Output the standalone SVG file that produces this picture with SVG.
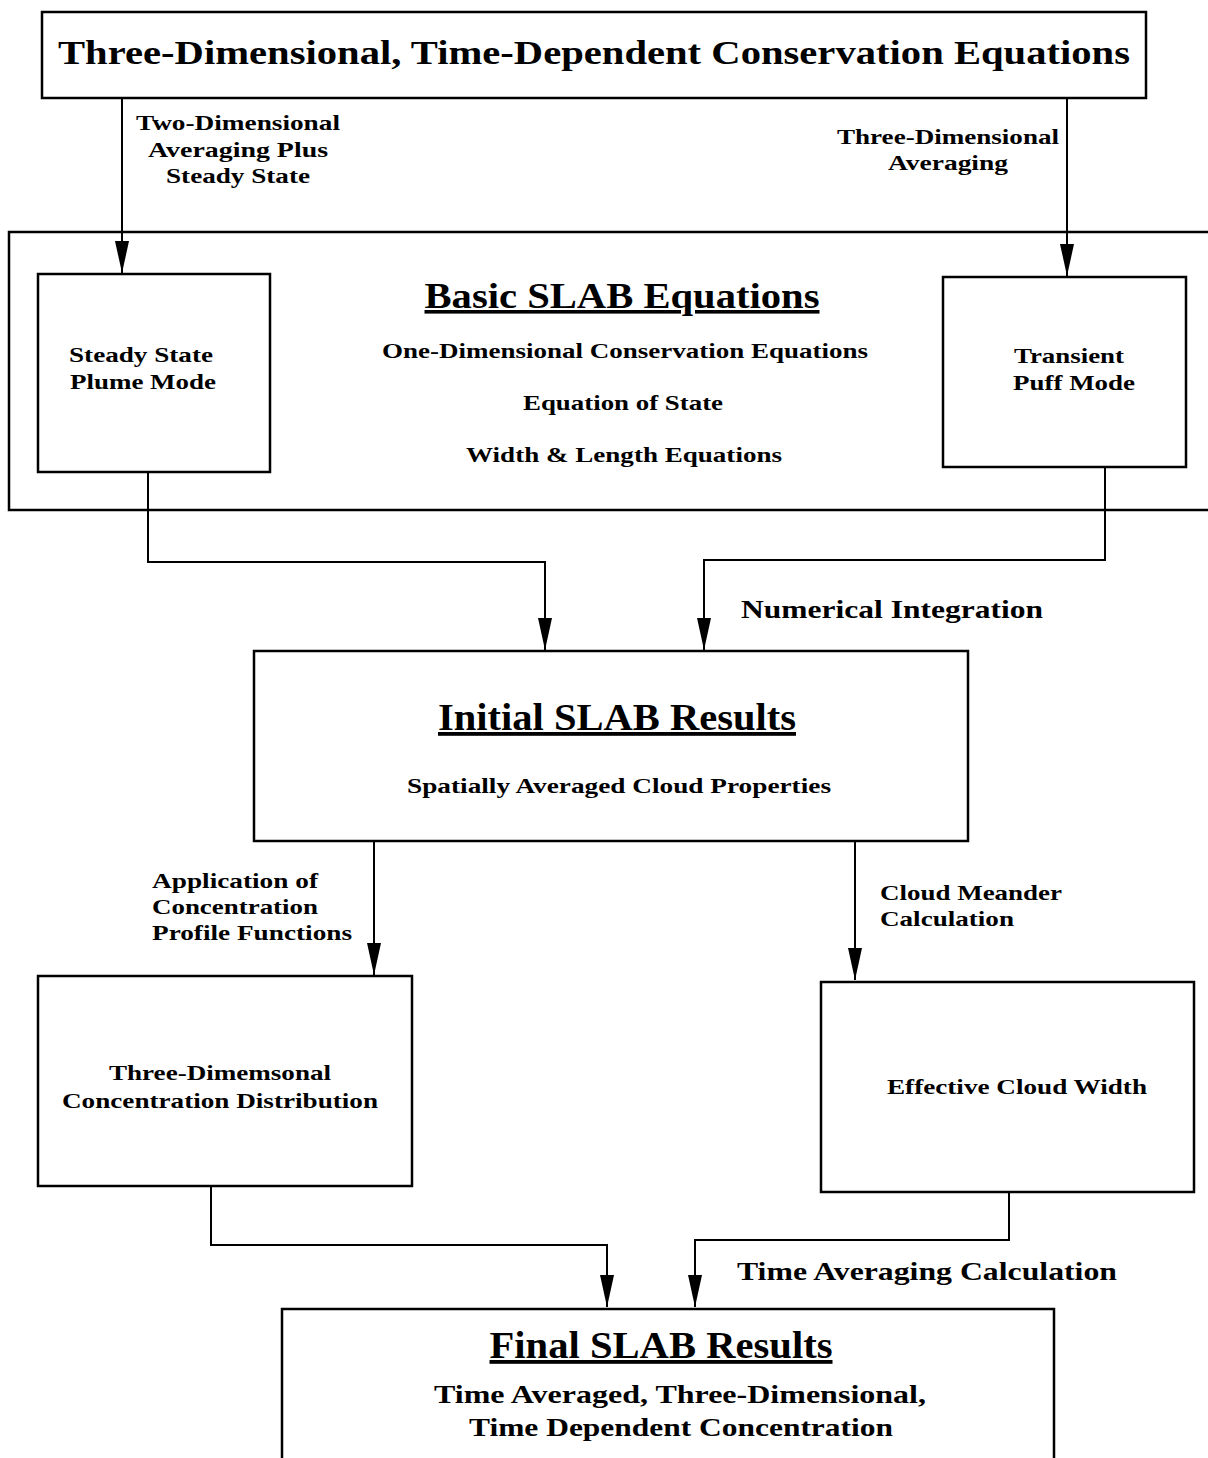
<svg xmlns="http://www.w3.org/2000/svg" width="1208" height="1458" viewBox="0 0 1208 1458">
<style>
.box{fill:none;stroke:#000;stroke-width:2.5}
.ln{fill:none;stroke:#000;stroke-width:2}
text{font-family:"Liberation Serif","Times New Roman",serif;font-weight:bold;fill:#000}
.s{font-size:22px}
.m{font-size:26px}
.t{font-size:38px;text-decoration:underline}
.c{text-anchor:middle}
</style>
<defs>
<marker id="ah" markerUnits="userSpaceOnUse" markerWidth="32" markerHeight="14" refX="32" refY="7" orient="auto">
<path d="M0,0 L32,7 L0,14 z" fill="#000"/>
</marker>
</defs>
<rect width="1208" height="1458" fill="#fff"/>
<g id="connectors">
<path class="ln" d="M122,98 V273" marker-end="url(#ah)"/>
<path class="ln" d="M1067,98 V276" marker-end="url(#ah)"/>
<path class="ln" d="M148,472 V562 H545 V650" marker-end="url(#ah)"/>
<path class="ln" d="M1105,467 V560 H704 V650" marker-end="url(#ah)"/>
<path class="ln" d="M374,841 V975" marker-end="url(#ah)"/>
<path class="ln" d="M855,841 V980" marker-end="url(#ah)"/>
<path class="ln" d="M211,1186 V1245 H607 V1307" marker-end="url(#ah)"/>
<path class="ln" d="M1009,1192 V1240 H695 V1307" marker-end="url(#ah)"/>
<text class="s c" x="238" y="130" textLength="204" lengthAdjust="spacingAndGlyphs">Two-Dimensional</text>
<text class="s c" x="238" y="157" textLength="180" lengthAdjust="spacingAndGlyphs">Averaging Plus</text>
<text class="s c" x="238" y="183" textLength="144" lengthAdjust="spacingAndGlyphs">Steady State</text>
<text class="s c" x="948" y="144" textLength="222" lengthAdjust="spacingAndGlyphs">Three-Dimensional</text>
<text class="s c" x="948" y="170" textLength="120" lengthAdjust="spacingAndGlyphs">Averaging</text>
<text class="m" x="741" y="618" textLength="302" lengthAdjust="spacingAndGlyphs">Numerical Integration</text>
<text class="s" x="152" y="888" textLength="166" lengthAdjust="spacingAndGlyphs">Application of</text>
<text class="s" x="152" y="914" textLength="166" lengthAdjust="spacingAndGlyphs">Concentration</text>
<text class="s" x="152" y="940" textLength="200" lengthAdjust="spacingAndGlyphs">Profile Functions</text>
<text class="s" x="880" y="900" textLength="182" lengthAdjust="spacingAndGlyphs">Cloud Meander</text>
<text class="s" x="880" y="926" textLength="134" lengthAdjust="spacingAndGlyphs">Calculation</text>
<text class="m" x="737" y="1280" textLength="380" lengthAdjust="spacingAndGlyphs">Time Averaging Calculation</text>
</g>
<g id="top">
<rect class="box" x="42" y="12" width="1104" height="86"/>
<text class="c" x="594" y="64" font-size="34" textLength="1072" lengthAdjust="spacingAndGlyphs">Three-Dimensional, Time-Dependent Conservation Equations</text>
</g>
<g id="basic">
<path class="box" d="M1210,232 H9 V510 H1210"/>
<text class="t c" x="622" y="308" font-size="36" style="font-size:36px" textLength="395" lengthAdjust="spacingAndGlyphs">Basic SLAB Equations</text>
<text class="s c" x="625" y="358" textLength="486" lengthAdjust="spacingAndGlyphs">One-Dimensional Conservation Equations</text>
<text class="s c" x="623" y="410" textLength="200" lengthAdjust="spacingAndGlyphs">Equation of State</text>
<text class="s c" x="624" y="462" textLength="316" lengthAdjust="spacingAndGlyphs">Width &amp; Length Equations</text>
</g>
<g id="steady">
<rect class="box" x="38" y="274" width="232" height="198"/>
<text class="s c" x="141" y="362" textLength="144" lengthAdjust="spacingAndGlyphs">Steady State</text>
<text class="s c" x="143" y="389" textLength="146" lengthAdjust="spacingAndGlyphs">Plume Mode</text>
</g>
<g id="transient">
<rect class="box" x="943" y="277" width="243" height="190"/>
<text class="s c" x="1069" y="363" textLength="110" lengthAdjust="spacingAndGlyphs">Transient</text>
<text class="s c" x="1074" y="390" textLength="122" lengthAdjust="spacingAndGlyphs">Puff Mode</text>
</g>
<g id="initial">
<rect class="box" x="254" y="651" width="714" height="190"/>
<text class="t c" x="617" y="730" textLength="358" lengthAdjust="spacingAndGlyphs">Initial SLAB Results</text>
<text class="s c" x="619" y="793" textLength="424" lengthAdjust="spacingAndGlyphs">Spatially Averaged Cloud Properties</text>
</g>
<g id="threedim">
<rect class="box" x="38" y="976" width="374" height="210"/>
<text class="s c" x="220" y="1080" textLength="222" lengthAdjust="spacingAndGlyphs">Three-Dimemsonal</text>
<text class="s c" x="220" y="1108" textLength="316" lengthAdjust="spacingAndGlyphs">Concentration Distribution</text>
</g>
<g id="effective">
<rect class="box" x="821" y="982" width="373" height="210"/>
<text class="s c" x="1017" y="1094" textLength="260" lengthAdjust="spacingAndGlyphs">Effective Cloud Width</text>
</g>
<g id="final">
<path class="box" d="M282,1460 V1309 H1054 V1460"/>
<text class="t c" x="661" y="1358" textLength="343" lengthAdjust="spacingAndGlyphs">Final SLAB Results</text>
<text class="m c" x="680" y="1403" textLength="492" lengthAdjust="spacingAndGlyphs">Time Averaged, Three-Dimensional,</text>
<text class="m c" x="681" y="1436" textLength="424" lengthAdjust="spacingAndGlyphs">Time Dependent Concentration</text>
</g>
</svg>
